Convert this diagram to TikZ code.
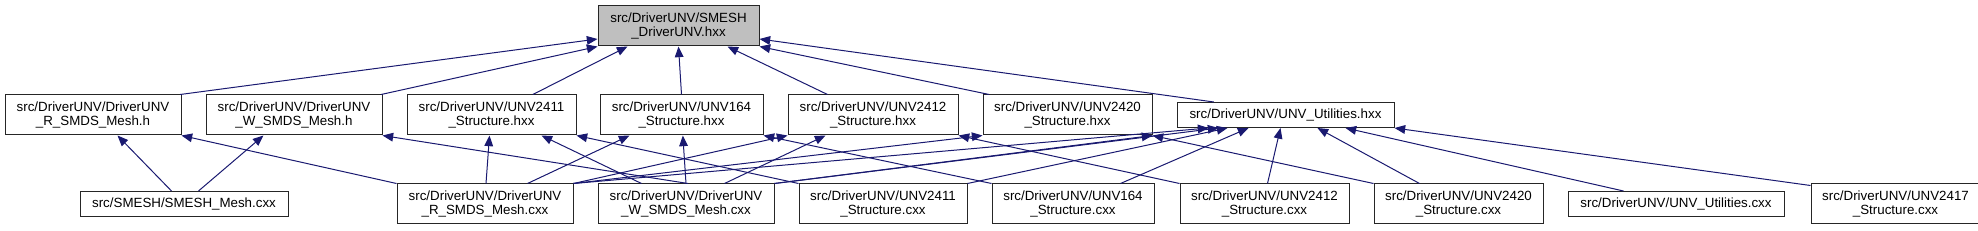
\documentclass[tikz,border=0pt]{standalone}
\usepackage{fontspec}
\setmainfont{Liberation Sans}
\usetikzlibrary{positioning,arrows.meta}
\definecolor{edgeblue}{HTML}{191970}
\definecolor{boxgray}{HTML}{BFBFBF}

\begin{document}
\begin{tikzpicture}[x=0.75pt, y=-0.75pt,
    file/.style={draw=black!85, line width=0.75pt, inner sep=0pt, minimum height=30pt,
        align=center, font=\fontsize{10}{11}\selectfont},
    short/.style={file, minimum height=18.75pt},
    dep/.style={draw=edgeblue, line width=0.75pt, -{Triangle[length=8pt,width=6.5pt]}}]

    \useasboundingbox (0,0) rectangle (1978,231);

    \node[file, fill=boxgray, minimum width=120.75pt] (top) at (678.5,26) {src/DriverUNV/SMESH\\\_DriverUNV.hxx};

    \node[file, minimum width=132pt] (rh) at (93,115) {src/DriverUNV/DriverUNV\\\_R\_SMDS\_Mesh.h};
    \node[file, minimum width=132pt, right=18pt of rh] (wh) {src/DriverUNV/DriverUNV\\\_W\_SMDS\_Mesh.h};
    \node[file, minimum width=126.75pt, right=18pt of wh] (h2411) {src/DriverUNV/UNV2411\\\_Structure.hxx};
    \node[file, minimum width=122.25pt, right=17.25pt of h2411] (h164) {src/DriverUNV/UNV164\\\_Structure.hxx};
    \node[file, minimum width=127.5pt, right=18pt of h164] (h2412) {src/DriverUNV/UNV2412\\\_Structure.hxx};
    \node[file, minimum width=126.75pt, right=18pt of h2412] (h2420) {src/DriverUNV/UNV2420\\\_Structure.hxx};
    \node[short, minimum width=162.75pt, right=18pt of h2420] (uth) {src/DriverUNV/UNV\_Utilities.hxx};

    \node[short, minimum width=156pt] (smesh) at (184,204) {src/SMESH/SMESH\_Mesh.cxx};
    \node[file, minimum width=132pt, right=81pt of smesh] (rc) {src/DriverUNV/DriverUNV\\\_R\_SMDS\_Mesh.cxx};
    \node[file, minimum width=132pt, right=18pt of rc] (wc) {src/DriverUNV/DriverUNV\\\_W\_SMDS\_Mesh.cxx};
    \node[file, minimum width=126pt, right=18pt of wc] (c2411) {src/DriverUNV/UNV2411\\\_Structure.cxx};
    \node[file, minimum width=121.5pt, right=18pt of c2411] (c164) {src/DriverUNV/UNV164\\\_Structure.cxx};
    \node[file, minimum width=126.75pt, right=18.75pt of c164] (c2412) {src/DriverUNV/UNV2412\\\_Structure.cxx};
    \node[file, minimum width=126.75pt, right=18pt of c2412] (c2420) {src/DriverUNV/UNV2420\\\_Structure.cxx};
    \node[short, minimum width=162pt, right=18pt of c2420] (utc) {src/DriverUNV/UNV\_Utilities.cxx};
    \node[file, minimum width=126.75pt, right=19.5pt of utc] (c2417) {src/DriverUNV/UNV2417\\\_Structure.cxx};

    % headers including SMESH_DriverUNV.hxx
    \draw[dep] ([xshift=-1pt]rh.north east) -- ([yshift=-9.75pt]top.west);
    \draw[dep] ([xshift=-1pt]wh.north east) -- (top.south west);
    \draw[dep] ([xshift=31pt]h2411.north) -- ([xshift=22.5pt]top.south west);
    \draw[dep] (h164.north) -- (top.south);
    \draw[dep] ([xshift=30pt]h2412.north west) -- ([xshift=-24pt]top.south east);
    \draw[dep] ([xshift=5pt]h2420.north west) -- (top.south east);
    \draw[dep] ([xshift=28pt]uth.north west) -- ([yshift=-9.75pt]top.east);

    % sources including the headers
    \draw[dep] ([xshift=69pt]smesh.north west) -- ([xshift=84.75pt]rh.south west);
    \draw[dep] ([xshift=89.25pt]smesh.north west) -- ([xshift=43.5pt]wh.south west);
    \draw[dep] (rc.north west) -- (rh.south east);
    \draw[dep] ([xshift=1.5pt]wc.north) -- (wh.south east);

    \draw[dep] ([xshift=0.75pt]rc.north) -- ([xshift=-1.5pt]h2411.south);
    \draw[dep] ([xshift=33pt]wc.north west) -- ([xshift=101.25pt]h2411.south west);
    \draw[dep] (c2411.north west) -- (h2411.south east);

    \draw[dep] ([xshift=98.25pt]rc.north west) -- ([xshift=22.5pt]h164.south west);
    \draw[dep] (wc.north) -- ([xshift=1pt]h164.south);
    \draw[dep] (c164.north west) -- (h164.south east);

    \draw[dep] (rc.north east) -- (h2412.south west);
    \draw[dep] ([xshift=95.25pt]wc.north west) -- ([xshift=28.5pt]h2412.south west);
    \draw[dep] (c2412.north west) -- (h2412.south east);

    \draw[dep] (rc.north east) -- (h2420.south west);
    \draw[dep] (wc.north east) -- (h2420.south east);
    \draw[dep] (c2420.north west) -- (h2420.south east);

    \draw[dep] (rc.north east) -- ([xshift=24pt]uth.south west);
    \draw[dep] (wc.north east) -- ([xshift=31.5pt]uth.south west);
    \draw[dep] (c2411.north east) -- ([xshift=38.25pt]uth.south west);
    \draw[dep] ([xshift=96.75pt]c164.north west) -- ([xshift=54pt]uth.south west);
    \draw[dep] ([xshift=66pt]c2412.north west) -- ([xshift=78pt]uth.south west);
    \draw[dep] ([xshift=34.5pt]c2420.north west) -- ([xshift=105.75pt]uth.south west);
    \draw[dep] ([xshift=42pt]utc.north west) -- ([xshift=126.75pt]uth.south west);
    \draw[dep] ([yshift=-1.5pt]c2417.north west) -- (uth.south east);

\end{tikzpicture}
\end{document}
